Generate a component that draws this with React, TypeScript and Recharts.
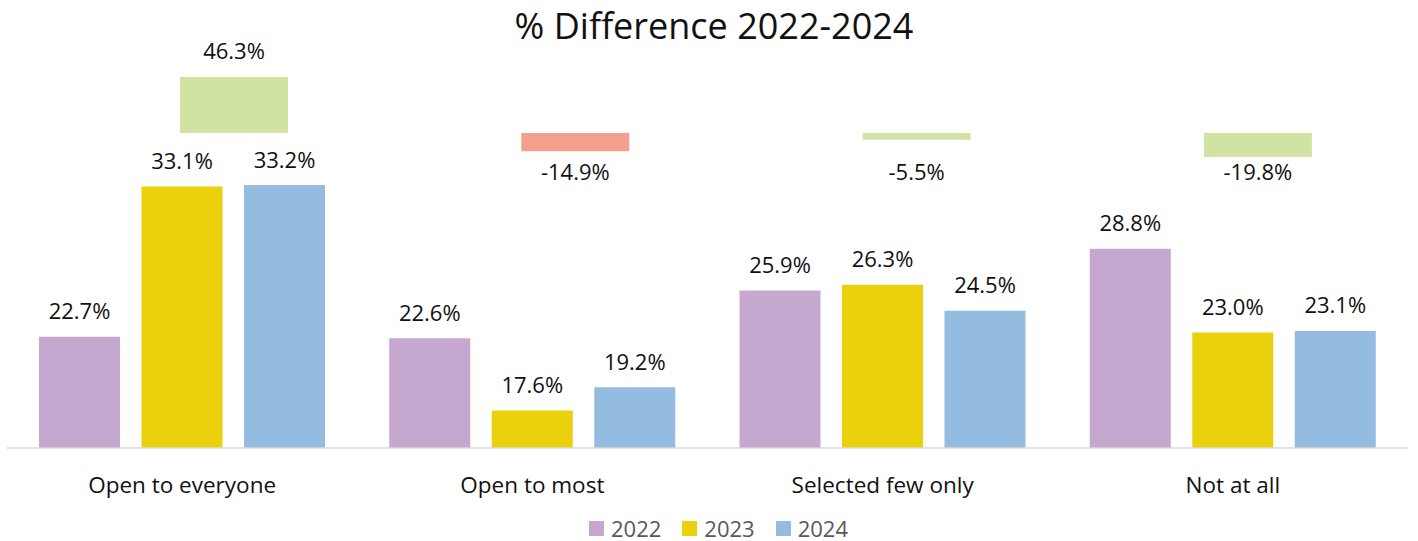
import React from "react";
import { BarChart, Bar, XAxis, YAxis, Cell, LabelList, Legend } from "recharts";

const categories = ["Open to everyone", "Open to most", "Selected few only", "Not at all"];
const values2022 = [22.7, 22.6, 25.9, 28.8];
const values2023 = [33.1, 17.6, 26.3, 23.0];
const values2024 = [33.2, 19.2, 24.5, 23.1];
const differences = [46.3, -14.9, -5.5, -19.8];
const seriesNames = ["2022", "2023", "2024"];
const seriesKeys = ["y2022", "y2023", "y2024"];

const SERIES_COLORS = ["#C5A7D0", "#EBD10B", "#93BCE0"];
const DIFF_COLORS = ["#D1E3A3", "#F59F8F", "#D1E3A3", "#D1E3A3"];
const FONT = '"Open Sans", "Noto Sans", sans-serif';

const data = categories.map((category, i) => ({
  category,
  y2022: values2022[i],
  y2023: values2023[i],
  y2024: values2024[i],
  diff: differences[i],
}));

const fmt = (v: any) => `${Number(v).toFixed(1)}%`;

function getBox(props: any) {
  const vb = props.viewBox ?? props;
  const x = Number(vb.x);
  const y = Number(vb.y);
  const w = Number(vb.width);
  const h = Number(vb.height);
  return { cx: x + w / 2, top: Math.min(y, y + h) };
}

function ValueLabel(props: any) {
  const { cx, top } = getBox(props);
  return (
    <text x={cx} y={top - 17.6} textAnchor="middle" fontFamily={FONT} fontSize={22} fill="#111">
      {fmt(props.value)}
    </text>
  );
}

function DiffLabel(props: any) {
  const { cx, top } = getBox(props);
  const v = Number(props.value);
  // positive: above the bar, negative: a fixed distance under the zero line
  const y = v >= 0 ? top - 17.7 : top + 47;
  return (
    <text x={cx} y={y} textAnchor="middle" fontFamily={FONT} fontSize={22} fill="#111">
      {fmt(v)}
    </text>
  );
}

function LegendContent() {
  return (
    <div
      style={{
        display: "flex",
        justifyContent: "center",
        alignItems: "center",
        boxSizing: "border-box",
        height: 33,
        paddingTop: 7,
        paddingLeft: 19,
        fontFamily: FONT,
        fontSize: 22,
        color: "#595959",
      }}
    >
      {seriesNames.map((name, i) => (
        <div key={name} style={{ display: "flex", alignItems: "center", marginRight: i < seriesNames.length - 1 ? 21 : 0 }}>
          <span style={{ display: "inline-block", width: 15, height: 15, background: SERIES_COLORS[i], marginRight: 7 }} />
          <span style={{ lineHeight: "22px" }}>{name}</span>
        </div>
      ))}
    </div>
  );
}

export default function App() {
  return (
    <div style={{ position: "absolute", left: 0, top: 0, width: 1418, height: 541, background: "#fff" }}>
      <BarChart
        width={1418}
        height={541}
        data={data}
        margin={{ top: 58, right: 10, bottom: 0, left: 7 }}
        barGap={21.5}
      >
        <XAxis
          xAxisId="main"
          dataKey="category"
          interval={0}
          height={60}
          tickLine={false}
          tickMargin={23}
          axisLine={{ stroke: "#D9D9D9", strokeWidth: 1.5 }}
          tick={{ fontFamily: FONT, fontSize: 22.5, fill: "#111" }}
        />
        <XAxis xAxisId="diff" dataKey="category" hide height={0} padding={{ left: 56, right: -20.2 }} />
        <YAxis yAxisId="main" hide domain={[15, 42]} />
        <YAxis yAxisId="diff" hide domain={[-260, 62]} />
        <Legend
          verticalAlign="bottom"
          content={<LegendContent />}
          wrapperStyle={{ left: 0, bottom: 0, width: 1418, height: 33 }}
        />
        {seriesKeys.map((key, i) => (
          <Bar
            key={key}
            xAxisId="main"
            yAxisId="main"
            dataKey={key}
            name={seriesNames[i]}
            fill={SERIES_COLORS[i]}
            barSize={81}
            isAnimationActive={false}
          >
            <LabelList dataKey={key} content={ValueLabel} />
          </Bar>
        ))}
        <Bar xAxisId="diff" yAxisId="diff" dataKey="diff" name="% Difference" barSize={108} isAnimationActive={false}>
          {differences.map((d, i) => (
            <Cell key={`diff-${i}`} fill={DIFF_COLORS[i]} />
          ))}
          <LabelList dataKey="diff" content={DiffLabel} />
        </Bar>
      </BarChart>
      <svg width={1418} height={60} style={{ position: "absolute", left: 0, top: 0, pointerEvents: "none" }}>
        <text x={714} y={39} textAnchor="middle" fontFamily={FONT} fontSize={36} fill="#111">
          % Difference 2022-2024
        </text>
      </svg>
    </div>
  );
}
